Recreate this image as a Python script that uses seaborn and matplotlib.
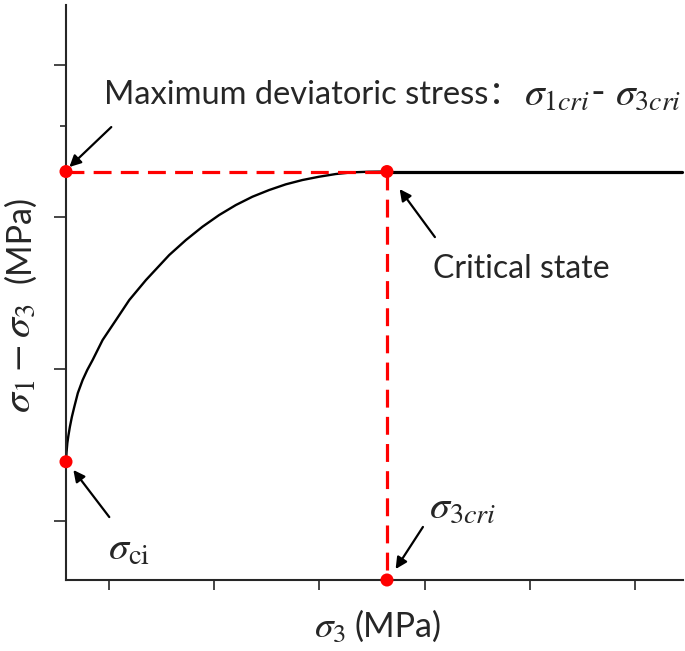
import matplotlib
matplotlib.use("Agg")
import matplotlib.pyplot as plt
import seaborn as sns
import pandas as pd
from matplotlib.ticker import FixedLocator, NullFormatter

# ---- data (schematic, arbitrary units) ----
curve_x = [0.5884, 0.5932, 0.6008, 0.6103, 0.6246, 0.6436, 0.6673, 0.7006, 0.7462, 0.7900,
           0.8413, 0.9363, 1.0637, 1.1901, 1.3489, 1.5703, 1.7291, 1.8869, 2.0456, 2.2044,
           2.3622, 2.5209, 2.6797, 2.8375, 2.9962, 3.1550, 3.3127, 3.4715, 3.6426]
curve_y = [1.3901, 1.4539, 1.5132, 1.5592, 1.6184, 1.6842, 1.7520, 1.8421, 1.9276, 1.9934,
           2.0592, 2.1908, 2.3224, 2.4539, 2.5855, 2.7500, 2.8487, 2.9362, 3.0132, 3.0789,
           3.1336, 3.1776, 3.2151, 3.2434, 3.2651, 3.2829, 3.2941, 3.2980, 3.2993]
plateau_x = [3.6426, 6.45]
plateau_y = [3.2993, 3.2993]
sigma_ci = 1.3901
sigma3_cri = 3.6426
dev_max = 3.2993
x_ticks = [1, 2, 3, 4, 5, 6]
y_ticks = [1, 2, 3, 4]
y_minor_ticks = [3.6]
x_min, x_max = 0.588, 6.46
y_min, y_max = 0.612, 4.395

sns.set_style("ticks")
plt.rcParams['font.family'] = ['Lato', 'Noto Sans CJK SC', 'DejaVu Sans']
plt.rcParams['mathtext.fontset'] = 'stix'

W, H = 685, 651
fig = plt.figure(figsize=(W/100, H/100), dpi=100)
ax = fig.add_axes([66/W, 1-580/H, 617/W, 575/H])

df_curve = pd.DataFrame({"x": curve_x, "y": curve_y})
df_plat = pd.DataFrame({"x": plateau_x, "y": plateau_y})
sns.lineplot(data=df_curve, x="x", y="y", sort=False, color="black", lw=1.7, ax=ax,
             solid_joinstyle='round', solid_capstyle='round')
sns.lineplot(data=df_plat, x="x", y="y", sort=False, color="black", lw=2.3, ax=ax, clip_on=False)

red = "#ff0000"
ax.plot([x_min, sigma3_cri], [dev_max, dev_max], color=red, lw=2.3, dashes=(5.6, 2.9), clip_on=False)
ax.plot([sigma3_cri, sigma3_cri], [dev_max, y_min], color=red, lw=2.3, dashes=(5.6, 2.9), clip_on=False)

pts = pd.DataFrame({"x": [x_min, sigma3_cri, x_min, sigma3_cri],
                    "y": [dev_max, dev_max, sigma_ci, y_min]})
sns.scatterplot(data=pts, x="x", y="y", color=red, s=88, edgecolor="none", zorder=5,
                clip_on=False, ax=ax)

ax.set_xlim(x_min, x_max)
ax.set_ylim(y_min, y_max)
ax.xaxis.set_major_locator(FixedLocator(x_ticks))
ax.yaxis.set_major_locator(FixedLocator(y_ticks))
ax.yaxis.set_minor_locator(FixedLocator(y_minor_ticks))
ax.xaxis.set_major_formatter(NullFormatter())
ax.yaxis.set_major_formatter(NullFormatter())
ax.tick_params(axis='y', which='major', length=8.5, width=1.2, direction='out')
ax.tick_params(axis='y', which='minor', length=4, width=1.2, direction='out')
ax.tick_params(axis='x', which='major', length=7, width=1.2, direction='out')
for s in ["top", "right"]:
    ax.spines[s].set_visible(False)
for s in ["left", "bottom"]:
    ax.spines[s].set_linewidth(1.5)
ax.set_xlabel("")
ax.set_ylabel("")

def fx(px):
    return px / W

def fy(py):
    return 1 - py / H

# axis labels (math part and unit part in different sizes, as in the picture)
fig.text(fx(314), fy(637), r"$\sigma_3$", fontsize=27, ha='left', va='baseline')
fig.text(fx(354), fy(637), "(MPa)", fontsize=24.5, ha='left', va='baseline')
fig.text(fx(30), fy(413), r"$\sigma_1 - \sigma_3$", fontsize=29, ha='left', va='baseline',
         rotation=90, rotation_mode='anchor')
fig.text(fx(30), fy(283), "(MPa)", fontsize=24.5, ha='left', va='baseline',
         rotation=90, rotation_mode='anchor')

arrow = dict(arrowstyle='-|>', lw=1.6, color='black', mutation_scale=17, shrinkA=0, shrinkB=0)
ax.annotate("", xy=(0.620, 3.329), xytext=(1.019, 3.592), arrowprops=arrow, annotation_clip=False)
ax.annotate("", xy=(3.763, 3.184), xytext=(4.099, 2.868), arrowprops=arrow, annotation_clip=False)
ax.annotate("", xy=(0.658, 1.336), xytext=(1.0, 1.026), arrowprops=arrow, annotation_clip=False)
ax.annotate("", xy=(3.725, 0.684), xytext=(3.985, 0.961), arrowprops=arrow, annotation_clip=False)

ax.text(0.952, 3.743, "Maximum deviatoric stress：", fontsize=23.5, ha='left', va='baseline')
ax.text(4.945, 3.743, r"$\sigma_{1cri}$- $\sigma_{3cri}$", fontsize=28.5, ha='left', va='baseline')
ax.text(4.080, 2.599, "Critical state", fontsize=23, ha='left', va='baseline')
ax.text(0.990, 0.743, r"$\sigma_{\mathrm{ci}}$", fontsize=29, ha='left', va='baseline')
ax.text(4.042, 1.020, r"$\sigma_{3cri}$", fontsize=29, ha='left', va='baseline')

fig.savefig("out.png", dpi=100)
